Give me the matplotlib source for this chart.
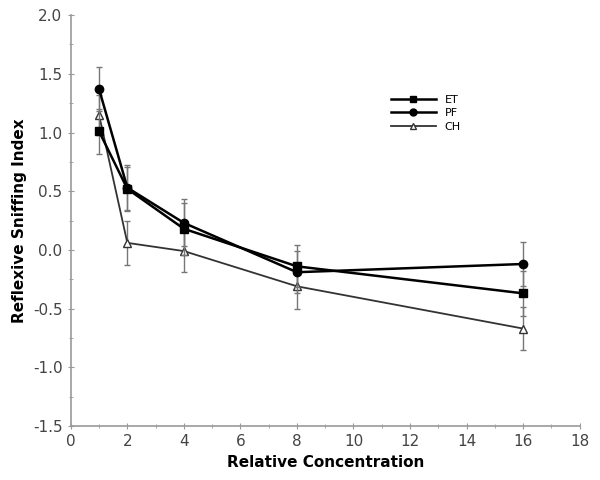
import matplotlib.pyplot as plt
from matplotlib.ticker import MultipleLocator
from matplotlib.lines import Line2D

conc = [1, 2, 4, 8, 16]
et = [1.01, 0.52, 0.18, -0.14, -0.37]
pf = [1.37, 0.53, 0.23, -0.19, -0.12]
ch = [1.15, 0.06, -0.01, -0.31, -0.67]
et_err = [0.19, 0.19, 0.22, 0.18, 0.19]
pf_err = [0.19, 0.19, 0.2, 0.18, 0.19]
ch_err = [0.17, 0.19, 0.18, 0.19, 0.18]

fig = plt.figure(figsize=(6, 4.8), dpi=100)
ax = fig.add_axes([0.118, 0.1125, 0.848, 0.856])

grey = '#777777'
ax.errorbar(conc, ch, yerr=ch_err, color='#333333', lw=1.3, marker='^', ms=6,
            mfc='white', mec='#333333', ecolor=grey, elinewidth=1, capsize=2.5,
            zorder=2)
ax.errorbar(conc, et, yerr=et_err, color='black', lw=1.8, marker='s', ms=6,
            ecolor=grey, elinewidth=1, capsize=2.5, zorder=3)
ax.errorbar(conc, pf, yerr=pf_err, color='black', lw=1.8, marker='o', ms=6,
            ecolor=grey, elinewidth=1, capsize=2.5, zorder=3)

ax.set_xlim(0, 18)
ax.set_ylim(-1.5, 2.0)
ax.xaxis.set_major_locator(MultipleLocator(2))
ax.xaxis.set_minor_locator(MultipleLocator(1))
ax.yaxis.set_major_locator(MultipleLocator(0.5))
ax.yaxis.set_minor_locator(MultipleLocator(0.25))
ax.yaxis.set_major_formatter(plt.FormatStrFormatter('%.1f'))

for s in ['top', 'right']:
    ax.spines[s].set_visible(False)
for s in ['left', 'bottom']:
    ax.spines[s].set_color('#999999')
    ax.spines[s].set_linewidth(1.2)
ax.tick_params(which='both', direction='inout', color='#999999', labelsize=11,
               labelcolor='#444444')
ax.tick_params(which='major', length=5)
ax.tick_params(which='minor', length=3)

ax.set_xlabel('Relative Concentration', fontsize=11, fontweight='bold')
ax.set_ylabel('Reflexive Sniffing Index', fontsize=11, fontweight='bold')

handles = [
    Line2D([], [], color='black', lw=1.8, marker='s', ms=5),
    Line2D([], [], color='black', lw=1.8, marker='o', ms=5),
    Line2D([], [], color='#333333', lw=1.3, marker='^', ms=5, mfc='white'),
]
ax.legend(handles, ['ET', 'PF', 'CH'], loc='upper left',
          bbox_to_anchor=(0.61, 0.83), frameon=False, fontsize=8, handlelength=4,
          labelspacing=0.3)

plt.savefig('out.png')
